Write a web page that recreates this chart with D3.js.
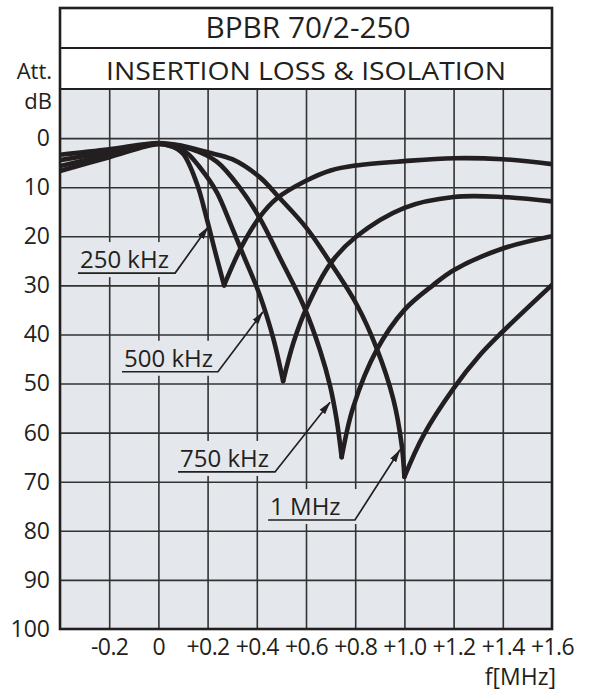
<!DOCTYPE html>
<html>
<head>
<meta charset="utf-8">
<script src="https://cdn.jsdelivr.net/npm/d3@7"></script>
<style>
  body { margin: 0; background: #fff; }
  text { font-family: "Open Sans", sans-serif; fill: #231f20; }
</style>
</head>
<body>
<div class="canva"></div>
<script>
// Texts
const title = 'BPBR 70/2-250'
const subtitle = 'INSERTION LOSS & ISOLATION'
const yTitle = ['Att.', 'dB']
const xTitle = 'f[MHz]'

// Ticks
const xTicks = [-0.2, 0, 0.2, 0.4, 0.6, 0.8, 1.0, 1.2, 1.4, 1.6]
const xTickLabels = ['-0.2', '0', '+0.2', '+0.4', '+0.6', '+0.8', '+1.0', '+1.2', '+1.4', '+1.6']
const yTicks = [0, 10, 20, 30, 40, 50, 60, 70, 80, 90, 100]

// Curves [f MHz, att dB] - pass branch down to the notch, then isolation branch
const pass250 = [[-0.4, 6.7], [-0.2, 3.9], [0, 1.2], [0.05, 1.6], [0.1, 3.2], [0.156, 9.2], [0.196, 16.3], [0.23, 23], [0.267, 30]]
const iso250 = [[0.267, 30], [0.338, 22.1], [0.413, 16], [0.481, 12.3], [0.6, 8.7], [0.7, 6.6], [0.8, 5.6], [1.0, 4.7], [1.2, 4.1], [1.4, 4.3], [1.6, 5.3]]

const pass500 = [[-0.4, 5.7], [-0.2, 3.4], [0, 1.2], [0.06, 1.8], [0.115, 3.0], [0.169, 6.0], [0.237, 11.0], [0.291, 17.2], [0.345, 23.8], [0.413, 32.1], [0.467, 40.8], [0.507, 49.5]]
const iso500 = [[0.507, 49.5], [0.55, 41.5], [0.603, 34.5], [0.7, 25.5], [0.806, 20], [1.0, 14.2], [1.2, 12], [1.4, 12], [1.6, 12.9]]

const pass750 = [[-0.4, 4.5], [-0.2, 2.8], [0, 1.1], [0.136, 2.3], [0.237, 4.8], [0.332, 10.2], [0.413, 16.4], [0.5, 25], [0.589, 34], [0.657, 43.2], [0.698, 50.5], [0.725, 57.5], [0.745, 65]]
const iso750 = [[0.745, 65], [0.792, 54.8], [0.887, 43.2], [1.0, 35.0], [1.118, 29.9], [1.2, 26.9], [1.4, 22.5], [1.6, 20]]

const pass1000 = [[-0.4, 3.4], [-0.2, 2.3], [0, 1.0], [0.1, 1.6], [0.2, 2.9], [0.3, 4.3], [0.413, 8.0], [0.487, 11.9], [0.6, 18.2], [0.698, 25.3], [0.806, 33.9], [0.887, 42.8], [0.955, 53.2], [0.989, 62.5], [1.0, 69]]
const iso1000 = [[1.0, 69], [1.077, 60.6], [1.2, 51], [1.307, 44.2], [1.4, 39.4], [1.6, 29.9]]

const curveLabels = ['250 kHz', '500 kHz', '750 kHz', '1 MHz']

// label leaders: underline from f0..f1 at dB level, arrow to tip
const leaders = [
  {f0: -0.327, f1: 0.068, at: 27.5, tip: [0.202, 18.1]},
  {f0: -0.148, f1: 0.242, at: 47.6, tip: [0.425, 35.4]},
  {f0: 0.08, f1: 0.474, at: 68, tip: [0.698, 53.8]},
  {f0: 0.446, f1: 0.799, at: 77.8, tip: [0.982, 63.5]}
]

const svg = d3.select('.canva').append('svg')
  .attr('width', 600)
  .attr('height', 693)

const frame = {left: 60, right: 552, top: 8, head: 48, plotTop: 89, bottom: 629}

const x = d3.scaleLinear().domain([-0.4, 1.6]).range([frame.left, frame.right])
const y = d3.scaleLinear().domain([-10, 100]).range([frame.plotTop, frame.bottom])

const plotBg = '#e4e7eb'
const ink = '#231f20'

// header + plot backgrounds
svg.append('rect')
  .attr('x', frame.left).attr('y', frame.top)
  .attr('width', frame.right - frame.left).attr('height', frame.plotTop - frame.top)
  .attr('fill', '#fff')

svg.append('rect')
  .attr('x', frame.left).attr('y', frame.plotTop)
  .attr('width', frame.right - frame.left).attr('height', frame.bottom - frame.plotTop)
  .attr('fill', plotBg)

// grid
const gridX = svg.append('g')
  .attr('transform', `translate(0,${frame.bottom})`)
  .call(d3.axisBottom(x).tickValues(xTicks.slice(0, -1)).tickSize(-(frame.bottom - frame.plotTop)).tickFormat(''))
const gridY = svg.append('g')
  .attr('transform', `translate(${frame.left},0)`)
  .call(d3.axisLeft(y).tickValues(yTicks.slice(0, -1)).tickSize(-(frame.right - frame.left)).tickFormat(''))
;[gridX, gridY].forEach(g => {
  g.select('.domain').remove()
  g.selectAll('line').attr('stroke', '#333').attr('stroke-width', 1.6)
})

const defs = svg.append('defs')
defs.append('clipPath').attr('id', 'plotClip')
  .append('rect')
  .attr('x', frame.left).attr('y', frame.plotTop)
  .attr('width', frame.right - frame.left).attr('height', frame.bottom - frame.plotTop)
defs.append('marker')
  .attr('id', 'arrow')
  .attr('viewBox', '0 0 13 8')
  .attr('refX', 12.5).attr('refY', 4)
  .attr('markerWidth', 13).attr('markerHeight', 8)
  .attr('markerUnits', 'userSpaceOnUse')
  .attr('orient', 'auto')
  .append('path')
  .attr('d', 'M0,0.5 L13,4 L0,7.5 Z')
  .attr('fill', ink)

// label backgrounds hide the grid behind the labels
const bgG = svg.append('g')
const curveG = svg.append('g').attr('clip-path', 'url(#plotClip)')
const leaderG = svg.append('g')

// curves
const line = d3.line()
  .x(d => x(d[0]))
  .y(d => y(d[1]))
  .curve(d3.curveCatmullRom.alpha(0.5))

const branches = [pass250, iso250, pass500, iso500, pass750, iso750, pass1000, iso1000]
curveG.selectAll('path')
  .data(branches)
  .enter()
  .append('path')
  .attr('d', line)
  .attr('fill', 'none')
  .attr('stroke', ink)
  .attr('stroke-width', 4.6)
  .attr('stroke-linecap', 'round')
  .attr('stroke-linejoin', 'round')

// curve labels with leaders
leaders.forEach((l, i) => {
  const t = leaderG.append('text')
    .attr('x', x(l.f0) + 2)
    .attr('y', y(l.at) - 5)
    .attr('font-size', 24)
    .text(curveLabels[i])
  const bb = t.node().getBBox()
  bgG.append('rect')
    .attr('x', bb.x - 3).attr('y', bb.y)
    .attr('width', x(l.f1) - x(l.f0) + 6).attr('height', y(l.at) - bb.y + 4)
    .attr('fill', plotBg)
  leaderG.append('path')
    .attr('d', `M${x(l.f0)},${y(l.at)} L${x(l.f1)},${y(l.at)} L${x(l.tip[0])},${y(l.tip[1])}`)
    .attr('fill', 'none')
    .attr('stroke', ink)
    .attr('stroke-width', 1.7)
    .attr('marker-end', 'url(#arrow)')
})

// frame lines
svg.append('rect')
  .attr('x', frame.left).attr('y', frame.top)
  .attr('width', frame.right - frame.left).attr('height', frame.bottom - frame.top)
  .attr('fill', 'none').attr('stroke', ink).attr('stroke-width', 2.6)
;[frame.head, frame.plotTop].forEach(h => {
  svg.append('line')
    .attr('x1', frame.left).attr('x2', frame.right)
    .attr('y1', h).attr('y2', h)
    .attr('stroke', ink).attr('stroke-width', 2.2)
})

// titles
svg.append('text')
  .attr('x', (frame.left + frame.right) / 2 + 2).attr('y', 38)
  .attr('text-anchor', 'middle').attr('font-size', 29)
  .attr('textLength', 205).attr('lengthAdjust', 'spacingAndGlyphs')
  .text(title)
svg.append('text')
  .attr('x', (frame.left + frame.right) / 2).attr('y', 80)
  .attr('text-anchor', 'middle').attr('font-size', 25)
  .attr('textLength', 400).attr('lengthAdjust', 'spacingAndGlyphs')
  .text(subtitle)

// tick labels
const xAxis = svg.append('g')
  .attr('transform', `translate(0,${frame.bottom})`)
  .call(d3.axisBottom(x).tickValues(xTicks).tickSize(0).tickPadding(10).tickFormat((d, i) => xTickLabels[i]))
const yAxis = svg.append('g')
  .attr('transform', `translate(${frame.left},0)`)
  .call(d3.axisLeft(y).tickValues(yTicks).tickSize(0).tickPadding(10))
;[xAxis, yAxis].forEach(g => {
  g.select('.domain').remove()
  g.attr('font-family', null).attr('font-size', null)
  g.selectAll('text').attr('font-size', 23).attr('fill', ink)
})
xAxis.selectAll('text').attr('letter-spacing', -0.6)

// axis titles
svg.append('text')
  .attr('x', 52).attr('y', 79)
  .attr('text-anchor', 'end').attr('font-size', 22)
  .text(yTitle[0])
svg.append('text')
  .attr('x', 52).attr('y', 109)
  .attr('text-anchor', 'end').attr('font-size', 22)
  .text(yTitle[1])
svg.append('text')
  .attr('x', 556).attr('y', 685)
  .attr('text-anchor', 'end').attr('font-size', 23)
  .text(xTitle)
</script>
</body>
</html>
